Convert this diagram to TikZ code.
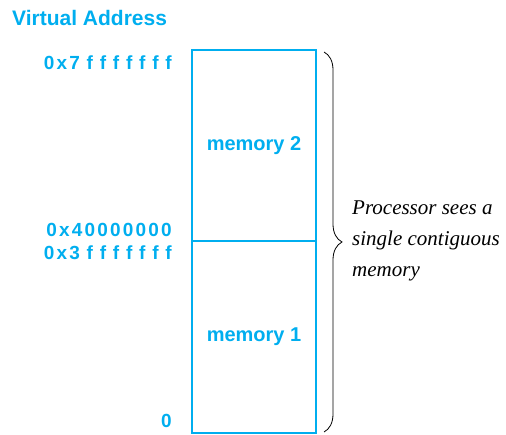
\documentclass[tikz,border=0pt]{standalone}
\usepackage{fontspec}
\setmainfont{Liberation Sans}
\newfontfamily\serifit{Liberation Serif}
\newfontfamily\hexfont[LetterSpace=11.5]{Liberation Sans}
\usetikzlibrary{decorations.pathreplacing}
\definecolor{cyanblue}{RGB}{0,174,239}
\newcommand{\fsp}{\hspace{6.8pt}}
\tikzset{
  membox/.style={draw=cyanblue, line width=1.2pt, minimum width=124pt, inner sep=0pt, font=\bfseries\fontsize{20}{22}\selectfont, text=cyanblue},
  addr/.style={anchor=east, inner sep=0pt, text=cyanblue, font=\hexfont\bfseries\fontsize{19}{22}\selectfont},
  note/.style={anchor=west, inner sep=0pt, align=left, font=\serifit\itshape\fontsize{21}{31}\selectfont}
}
\begin{document}
\begin{tikzpicture}[x=1pt,y=-1pt]
\useasboundingbox (0,0) rectangle (506,435);
\node[membox, minimum height=191pt] (mem2) at (254,145.5) {memory 2};
\node[membox, minimum height=192pt] (mem1) at (254,337) {memory 1};
\node[anchor=west, inner sep=0pt, text=cyanblue, font=\bfseries\fontsize{21}{24}\selectfont] (title) at (12,18) {Virtual Address};
\node[addr] (a7) at (172,63) {0x7\fsp f\fsp f\fsp f\fsp f\fsp f\fsp f\fsp f};
\node[addr] (a4) at (172,230) {0x40000000};
\node[addr] (a3) at (172,253) {0x3\fsp f\fsp f\fsp f\fsp f\fsp f\fsp f\fsp f};
\node[addr] (a0) at (172,421) {0};
\coordinate (btop) at (324,52);
\coordinate (bbot) at (324,432);
\draw[line width=0.8pt, decorate, decoration={brace, amplitude=18pt}] (btop) -- (bbot);
\node[note] (txt) at (352,241) {Processor sees a\\single contiguous\\memory};
\end{tikzpicture}
\end{document}
